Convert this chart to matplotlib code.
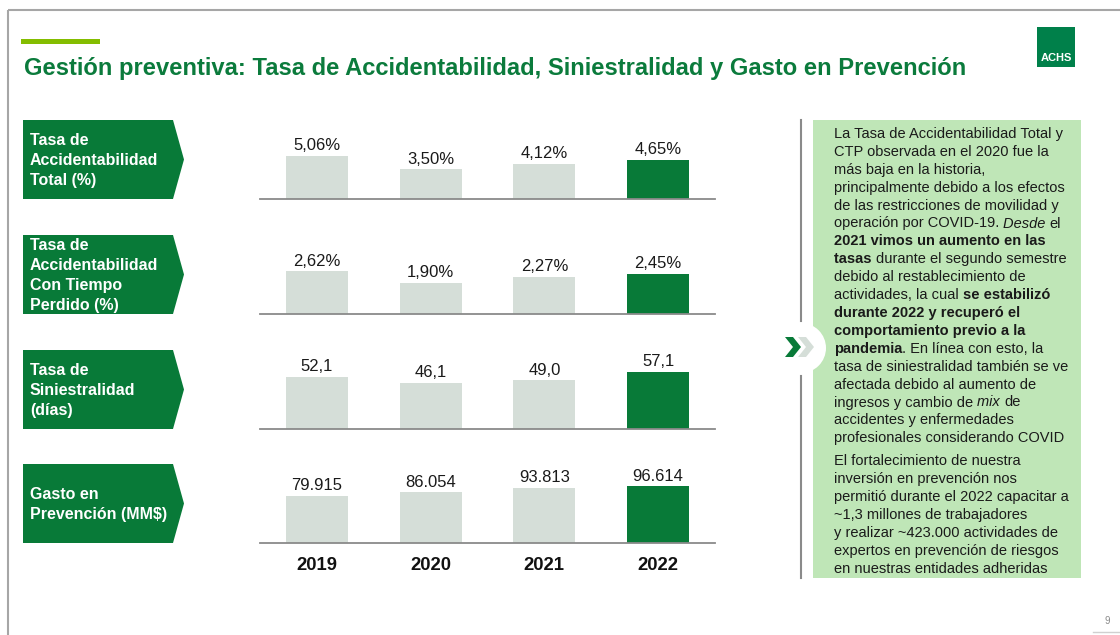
import matplotlib
matplotlib.use("Agg")
import matplotlib.pyplot as plt
from matplotlib.patches import Polygon, Rectangle, Circle
from matplotlib import font_manager

plt.rcParams['font.family'] = ['Liberation Sans', 'DejaVu Sans']

# ---------------- data ----------------
years = ["2019", "2020", "2021", "2022"]
tasa_total = [5.06, 3.50, 4.12, 4.65]
tasa_ctp = [2.62, 1.90, 2.27, 2.45]
siniestralidad = [52.1, 46.1, 49.0, 57.1]
gasto_prevencion = [79915, 86054, 93813, 96614]

panel_titles = [
    ["Tasa de", "Accidentabilidad", "Total (%)"],
    ["Tasa de", "Accidentabilidad", "Con Tiempo", "Perdido (%)"],
    ["Tasa de", "Siniestralidad", "(días)"],
    ["Gasto en", "Prevención (MM$)"],
]

title = "Gestión preventiva: Tasa de Accidentabilidad, Siniestralidad y Gasto en Prevención"

para1 = [
    [("La Tasa de Accidentabilidad Total y", "n")],
    [("CTP observada en el 2020 fue la", "n")],
    [("más baja en la historia,", "n")],
    [("principalmente debido a los efectos", "n")],
    [("de las restricciones de movilidad y", "n")],
    [("operación por COVID-19. ", "n"), ("Desde", "i"), (" el", "n")],
    [("2021 vimos un aumento en las", "b")],
    [("tasas", "b"), (" durante el segundo semestre", "n")],
    [("debido al restablecimiento de", "n")],
    [("actividades, la cual ", "n"), ("se estabilizó", "b")],
    [("durante 2022 y recuperó el", "b")],
    [("comportamiento previo a la", "b")],
    [("pandemia", "b"), (". En línea con esto, la", "n")],
    [("tasa de siniestralidad también se ve", "n")],
    [("afectada debido al aumento de", "n")],
    [("ingresos y cambio de ", "n"), ("mix", "i"), (" de", "n")],
    [("accidentes y enfermedades", "n")],
    [("profesionales considerando COVID", "n")],
]
para2 = [
    [("El fortalecimiento de nuestra", "n")],
    [("inversión en prevención nos", "n")],
    [("permitió durante el 2022 capacitar a", "n")],
    [("~1,3 millones de trabajadores", "n")],
    [("y realizar ~423.000 actividades de", "n")],
    [("expertos en prevención de riesgos", "n")],
    [("en nuestras entidades adheridas", "n")],
]

# ---------------- colours ----------------
GREEN = "#087A38"
TITLE_GREEN = "#0B7B3C"
LIGHT_BAR = "#D5DED8"
BOX_GREEN = "#BFE6B7"
LIME = "#84BD00"
GRAY_LINE = "#8A8A8A"

W, H = 1120, 635
fig = plt.figure(figsize=(W / 100, H / 100), dpi=100, facecolor="white")

bg = fig.add_axes([0, 0, 1, 1], zorder=0)
bg.set_xlim(0, W)
bg.set_ylim(H, 0)
bg.axis("off")

# border
bg.plot([8, W], [10, 10], color="#A6A6A6", lw=1.5, solid_capstyle="butt")
bg.plot([8, 8], [10, H], color="#A6A6A6", lw=1.5, solid_capstyle="butt")

# lime accent and title
bg.add_patch(Rectangle((21, 39), 79, 5, color=LIME, lw=0))
bg.text(24, 68, title, fontsize=17.15, fontweight="bold", color=TITLE_GREEN,
        va="center", ha="left")

# logo
available = {f.name for f in font_manager.fontManager.ttflist}
logo_family = "DejaVu Sans Condensed" if "DejaVu Sans Condensed" in available else "Liberation Sans"
bg.add_patch(Rectangle((1037, 27), 38, 40, color="#00804A", lw=0))
bg.text(1056, 58, "ACHS", fontsize=8, fontweight="bold", color="white",
        ha="center", va="center", family=logo_family)

# page number
bg.text(1107, 621, "9", fontsize=7, color="#8C8C8C", ha="center", va="center")
bg.plot([1093, W], [632, 632], color="#D0D0D0", lw=1)

# ---------------- left chevron labels + bar panels ----------------
panel_tops = [120, 235, 350, 464]
panel_bottoms = [199, 314, 429, 543]
ymax = [9.3, 4.82, 79.2, 134300]
series = [tasa_total, tasa_ctp, siniestralidad, gasto_prevencion]


def fmt_pct(v):
    return f"{v:.2f}".replace(".", ",") + "%"


def fmt_dec(v):
    return f"{v:.1f}".replace(".", ",")


def fmt_thousands(v):
    return f"{v:,.0f}".replace(",", ".")


formatters = [fmt_pct, fmt_pct, fmt_dec, fmt_thousands]

for i in range(4):
    top, bot = panel_tops[i], panel_bottoms[i]
    poly = Polygon([(23, top), (173, top), (184, (top + bot) / 2), (173, bot), (23, bot)],
                   closed=True, color=GREEN, lw=0)
    bg.add_patch(poly)
    lines = panel_titles[i]
    n = len(lines)
    cy = (top + bot) / 2
    for k, ln in enumerate(lines):
        yc = cy + (k - (n - 1) / 2) * 20
        bg.text(30, yc + 5.5, ln, fontsize=11.5, fontweight="bold", color="white",
                ha="left", va="baseline")

    ax = fig.add_axes([260 / W, 1 - bot / H, 455 / W, (bot - top) / H], zorder=2)
    ax.patch.set_alpha(0)
    colors = [LIGHT_BAR] * (len(years) - 1) + [GREEN]
    x = list(range(len(years)))
    ax.bar(x, series[i], width=0.545, color=colors, edgecolor="none")
    ax.set_xlim(-0.5, len(years) - 0.5)
    ax.set_ylim(0, ymax[i])
    for s in ["top", "left", "right"]:
        ax.spines[s].set_visible(False)
    ax.spines["bottom"].set_color(GRAY_LINE)
    ax.spines["bottom"].set_linewidth(1.3)
    ax.set_yticks([])
    ax.set_xticks([])
    for xi, v in zip(x, series[i]):
        ax.annotate(formatters[i](v), xy=(xi, v), xytext=(0, 4), textcoords="offset points",
                    ha="center", va="baseline", fontsize=12, color="#1A1A1A")
    if i == 3:
        for xi, yr in zip(x, years):
            ax.annotate(yr, xy=(xi, 0), xycoords=("data", "axes fraction"),
                        xytext=(0, -26.5 * 0.72), textcoords="offset points",
                        ha="center", va="baseline", fontsize=13.3, fontweight="bold",
                        color="#111111")

# ---------------- right text box ----------------
bg.add_patch(Rectangle((813, 120), 268, 458, color=BOX_GREEN, lw=0))
bg.plot([801, 801], [120, 321], color=GRAY_LINE, lw=1.5)
bg.plot([801, 801], [376, 578], color=GRAY_LINE, lw=1.5)
bg.add_patch(Circle((801, 348), 25, color="white", lw=0, zorder=3))
bg.add_patch(Polygon([(785, 337), (793, 337), (801, 347), (793, 357), (785, 357), (793, 347)],
                     closed=True, color=GREEN, lw=0, zorder=4))
bg.add_patch(Polygon([(798, 337), (806, 337), (814, 347), (806, 357), (798, 357), (806, 347)],
                     closed=True, color=LIGHT_BAR, lw=0, zorder=4))

renderer = fig.canvas.get_renderer()
style_kw = {
    "n": dict(fontweight="normal", fontstyle="normal"),
    "b": dict(fontweight="bold", fontstyle="normal"),
    "i": dict(fontweight="normal", fontstyle="italic"),
}
FS = 10.5


def measure(s, st):
    t1 = bg.text(0, 0, "|" + s + "|", fontsize=FS, **style_kw[st])
    t2 = bg.text(0, 0, "||", fontsize=FS, **style_kw[st])
    w = t1.get_window_extent(renderer).width - t2.get_window_extent(renderer).width
    t1.remove()
    t2.remove()
    return w


def draw_line(segs, x0, yb):
    # move leading spaces onto the previous segment
    fixed = []
    for s, st in segs:
        if fixed and s.startswith(" "):
            stripped = s.lstrip(" ")
            ps, pst = fixed[-1]
            fixed[-1] = (ps + s[:len(s) - len(stripped)], pst)
            s = stripped
        fixed.append((s, st))
    x = x0
    for s, st in fixed:
        bg.text(x, yb, s, fontsize=FS, color="#1A1A1A", ha="left", va="baseline",
                zorder=5, **style_kw[st])
        x += measure(s, st)


for k, segs in enumerate(para1):
    draw_line(segs, 834, 133 + k * 17.9 + 5)
for k, segs in enumerate(para2):
    draw_line(segs, 834, 460 + k * 18 + 5)

fig.savefig("out.png", dpi=100, facecolor="white")
